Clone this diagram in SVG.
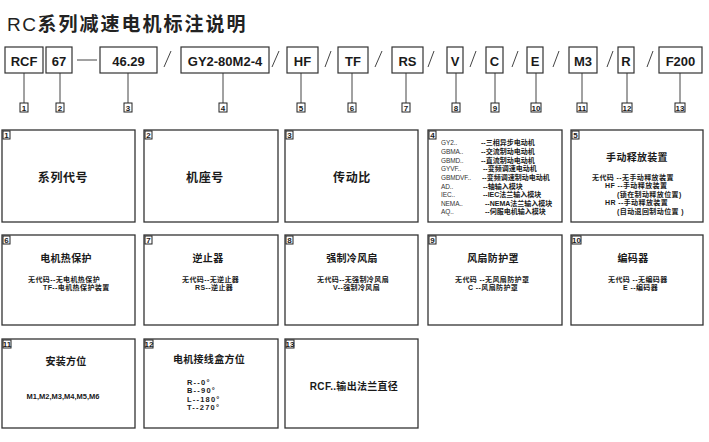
<svg xmlns="http://www.w3.org/2000/svg" width="709" height="442" viewBox="0 0 709 442">
<style>
text{font-family:"Liberation Sans","Noto Sans CJK SC",sans-serif;fill:#1a1a1a}
.code rect{fill:#fff;stroke:#333;stroke-width:1.2}
.code text{font-size:13px;font-weight:bold;text-anchor:middle}
.num rect{fill:#fff;stroke:#222;stroke-width:1}
.num text{font-size:8px;font-weight:bold;text-anchor:middle}
.big{fill:#fff;stroke:#333;stroke-width:1.3}
.h{font-size:12px;font-weight:bold;text-anchor:middle;letter-spacing:0.6px}
.h2{font-size:10px;font-weight:bold;text-anchor:middle;letter-spacing:0.3px}
.s{font-size:7px;font-weight:bold;letter-spacing:0.4px}
.l{font-size:6.5px;fill:#333;letter-spacing:-0.1px}
.d{font-size:7.5px;font-weight:bold;letter-spacing:1.2px}
.conn line{stroke:#444;stroke-width:1}
</style>
<text x="7" y="31" style="font-size:19px;fill:#222;letter-spacing:1.5px">RC<tspan style="font-weight:bold;letter-spacing:2px">系列减速电机标注说明</tspan></text>

<g class="conn" id="connectors">
<line x1="77" y1="60" x2="97" y2="60"/>
<line x1="164" y1="67" x2="171" y2="51"/>
<line x1="272" y1="67" x2="279" y2="51"/>
<line x1="325" y1="67" x2="331" y2="51"/>
<line x1="375" y1="67" x2="382" y2="51"/>
<line x1="428" y1="67" x2="434" y2="51"/>
<line x1="470" y1="67" x2="476" y2="51"/>
<line x1="512" y1="67" x2="518" y2="51"/>
<line x1="553" y1="67" x2="559" y2="51"/>
<line x1="607" y1="67" x2="613" y2="51"/>
<line x1="647" y1="67" x2="653" y2="51"/>
<line x1="24" y1="73" x2="24" y2="103"/>
<line x1="60" y1="73" x2="60" y2="103"/>
<line x1="128" y1="73" x2="128" y2="103"/>
<line x1="223" y1="73" x2="223" y2="103"/>
<line x1="301" y1="73" x2="301" y2="103"/>
<line x1="352" y1="73" x2="352" y2="103"/>
<line x1="406" y1="73" x2="406" y2="103"/>
<line x1="456" y1="73" x2="456" y2="103"/>
<line x1="495" y1="73" x2="495" y2="103"/>
<line x1="536" y1="73" x2="536" y2="103"/>
<line x1="582" y1="73" x2="582" y2="103"/>
<line x1="627" y1="73" x2="627" y2="103"/>
<line x1="680" y1="73" x2="680" y2="103"/>
</g>

<g class="code" id="code1"><rect x="5" y="47" width="38" height="26"/><text x="24" y="65.5">RCF</text></g>
<g class="code" id="code2"><rect x="46" y="47" width="26" height="26"/><text x="59" y="65.5">67</text></g>
<g class="code" id="code3"><rect x="100" y="47" width="57" height="26"/><text x="128.5" y="65.5">46.29</text></g>
<g class="code" id="code4"><rect x="181" y="47" width="88" height="26"/><text x="225" y="65.5">GY2-80M2-4</text></g>
<g class="code" id="code5"><rect x="287" y="47" width="31" height="26"/><text x="302.5" y="65.5">HF</text></g>
<g class="code" id="code6"><rect x="338" y="47" width="30" height="26"/><text x="353" y="65.5">TF</text></g>
<g class="code" id="code7"><rect x="392" y="47" width="31" height="26"/><text x="407.5" y="65.5">RS</text></g>
<g class="code" id="code8"><rect x="447" y="47" width="16" height="26"/><text x="455" y="65.5">V</text></g>
<g class="code" id="code9"><rect x="486" y="47" width="17" height="26"/><text x="494.5" y="65.5">C</text></g>
<g class="code" id="code10"><rect x="527" y="47" width="16" height="26"/><text x="535" y="65.5">E</text></g>
<g class="code" id="code11"><rect x="569" y="47" width="28" height="26"/><text x="583" y="65.5">M3</text></g>
<g class="code" id="code12"><rect x="618" y="47" width="16" height="26"/><text x="626" y="65.5">R</text></g>
<g class="code" id="code13"><rect x="659" y="47" width="43" height="26"/><text x="680.5" y="65.5">F200</text></g>

<g class="num" id="num1"><rect x="20" y="103" width="8" height="9"/><text x="24" y="110.5">1</text></g>
<g class="num" id="num2"><rect x="56" y="103" width="8" height="9"/><text x="60" y="110.5">2</text></g>
<g class="num" id="num3"><rect x="124" y="103" width="8" height="9"/><text x="128" y="110.5">3</text></g>
<g class="num" id="num4"><rect x="219" y="103" width="8" height="9"/><text x="223" y="110.5">4</text></g>
<g class="num" id="num5"><rect x="297" y="103" width="8" height="9"/><text x="301" y="110.5">5</text></g>
<g class="num" id="num6"><rect x="348" y="103" width="8" height="9"/><text x="352" y="110.5">6</text></g>
<g class="num" id="num7"><rect x="402" y="103" width="8" height="9"/><text x="406" y="110.5">7</text></g>
<g class="num" id="num8"><rect x="452" y="103" width="8" height="9"/><text x="456" y="110.5">8</text></g>
<g class="num" id="num9"><rect x="491" y="103" width="8" height="9"/><text x="495" y="110.5">9</text></g>
<g class="num" id="num10"><rect x="531" y="103" width="10" height="9"/><text x="536" y="110.5">10</text></g>
<g class="num" id="num11"><rect x="577" y="103" width="10" height="9"/><text x="582" y="110.5">11</text></g>
<g class="num" id="num12"><rect x="622" y="103" width="10" height="9"/><text x="627" y="110.5">12</text></g>
<g class="num" id="num13"><rect x="675" y="103" width="10" height="9"/><text x="680" y="110.5">13</text></g>

<g id="box1"><rect class="big" x="2" y="130" width="133" height="92"/><g class="num"><rect x="3" y="131" width="7" height="8"/><text x="6.5" y="137.5">1</text></g>
<text class="h" x="63" y="182">系列代号</text></g>
<g id="box2"><rect class="big" x="144" y="130" width="134" height="92"/><g class="num"><rect x="145" y="131" width="7" height="8"/><text x="148.5" y="137.5">2</text></g>
<text class="h" x="205" y="182">机座号</text></g>
<g id="box3"><rect class="big" x="285" y="130" width="133" height="92"/><g class="num"><rect x="286" y="131" width="7" height="8"/><text x="289.5" y="137.5">3</text></g>
<text class="h" x="352" y="182">传动比</text></g>
<g id="box4"><rect class="big" x="428" y="130" width="134" height="92"/><g class="num"><rect x="429" y="131" width="7" height="8"/><text x="432.5" y="137.5">4</text></g>
<text class="l" x="441" y="145">GY2..</text><text class="s" x="481" y="145" style="letter-spacing:0">--三相异步电动机</text>
<text class="l" x="441" y="154">GBMA..</text><text class="s" x="481" y="154" style="letter-spacing:0">--交流制动电动机</text>
<text class="l" x="441" y="162.5">GBMD..</text><text class="s" x="481" y="162.5" style="letter-spacing:0">--直流制动电动机</text>
<text class="l" x="441" y="171">GYVF..</text><text class="s" x="483" y="171" style="letter-spacing:0">--变频调速电动机</text>
<text class="l" x="441" y="180">GBMDVF..</text><text class="s" x="482" y="180" style="letter-spacing:0">--变频调速制动电动机</text>
<text class="l" x="441" y="188.5">AD..</text><text class="s" x="483" y="188.5" style="letter-spacing:0">--轴输入模块</text>
<text class="l" x="441" y="197">IEC..</text><text class="s" x="483" y="197" style="letter-spacing:0">--IEC法兰输入模块</text>
<text class="l" x="441" y="205.5">NEMA..</text><text class="s" x="485" y="205.5" style="letter-spacing:0">--NEMA法兰输入模块</text>
<text class="l" x="441" y="213.5">AQ..</text><text class="s" x="485" y="213.5" style="letter-spacing:0">--伺服电机输入模块</text></g>
<g id="box5"><rect class="big" x="571" y="130" width="132" height="92"/><g class="num"><rect x="572" y="131" width="7" height="8"/><text x="575.5" y="137.5">5</text></g>
<text class="h2" x="637" y="161">手动释放装置</text>
<text class="s" x="592" y="180">无代码 --无手动释放装置</text>
<text class="s" x="605" y="188">HF --手动释放装置</text>
<text class="s" x="617" y="196.5">(锁在制动释放位置)</text>
<text class="s" x="605" y="205">HR --手动释放装置</text>
<text class="s" x="617" y="213.5">(自动退回制动位置 )</text></g>

<g id="box6"><rect class="big" x="2" y="235" width="133" height="90"/><g class="num"><rect x="3" y="236" width="7" height="8"/><text x="6.5" y="242.5">6</text></g>
<text class="h2" x="66" y="262">电机热保护</text>
<text class="s" x="28" y="282">无代码--无电机热保护</text>
<text class="s" x="43" y="290">TF--电机热保护装置</text></g>
<g id="box7"><rect class="big" x="144" y="235" width="134" height="90"/><g class="num"><rect x="145" y="236" width="7" height="8"/><text x="148.5" y="242.5">7</text></g>
<text class="h2" x="208" y="262">逆止器</text>
<text class="s" x="182" y="282">无代码--无逆止器</text>
<text class="s" x="195" y="290">RS--逆止器</text></g>
<g id="box8"><rect class="big" x="285" y="235" width="133" height="90"/><g class="num"><rect x="286" y="236" width="7" height="8"/><text x="289.5" y="242.5">8</text></g>
<text class="h2" x="352" y="262">强制冷风扇</text>
<text class="s" x="317" y="282">无代码--无强制冷风扇</text>
<text class="s" x="333" y="290">V--强制冷风扇</text></g>
<g id="box9"><rect class="big" x="428" y="235" width="134" height="90"/><g class="num"><rect x="429" y="236" width="7" height="8"/><text x="432.5" y="242.5">9</text></g>
<text class="h2" x="493" y="262">风扇防护罩</text>
<text class="s" x="455" y="282">无代码 --无风扇防护罩</text>
<text class="s" x="468" y="290">C --风扇防护罩</text></g>
<g id="box10"><rect class="big" x="571" y="235" width="132" height="90"/><g class="num"><rect x="572" y="236" width="9" height="8"/><text x="576.5" y="242.5">10</text></g>
<text class="h2" x="633" y="262">编码器</text>
<text class="s" x="608" y="282">无代码 --无编码器</text>
<text class="s" x="623" y="290">E --编码器</text></g>

<g id="box11"><rect class="big" x="2" y="339" width="133" height="89"/><g class="num"><rect x="3" y="340" width="8" height="8"/><text x="7" y="346.5">11</text></g>
<text class="h2" x="66" y="365">安装方位</text>
<text class="s" x="63" y="399" style="text-anchor:middle;font-size:7.5px;letter-spacing:0">M1,M2,M3,M4,M5,M6</text></g>
<g id="box12"><rect class="big" x="144" y="339" width="134" height="89"/><g class="num"><rect x="145" y="340" width="8" height="8"/><text x="149" y="346.5">12</text></g>
<text class="h2" x="209" y="363">电机接线盒方位</text>
<text class="d" x="187" y="385">R--0°</text>
<text class="d" x="187" y="393">B--90°</text>
<text class="d" x="187" y="401.5">L--180°</text>
<text class="d" x="187" y="410">T--270°</text></g>
<g id="box13"><rect class="big" x="285" y="339" width="133" height="89"/><g class="num"><rect x="286" y="340" width="8" height="8"/><text x="290" y="346.5">13</text></g>
<text class="h2" x="354" y="390">RCF..输出法兰直径</text></g>
</svg>
